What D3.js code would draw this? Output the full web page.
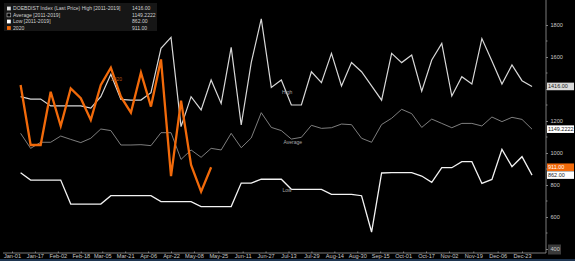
<!DOCTYPE html>
<html lang="en">
<head>
<meta charset="UTF-8">
<title>DOEBDIST Index</title>
<script src="https://d3js.org/d3.v7.min.js"></script>
<style>
    body { margin: 0; background: #000; }
    svg { display: block; }
    text { font-family: "Liberation Sans", Arial, sans-serif; }
    .axis text { fill: #c8c8c8; font-size: 5.6px; }
    .axis path, .axis line { stroke: #9a9a9a; stroke-width: 0.8px; }
</style>
</head>
<body>
<div id="container"></div>
<script>
    // weekly values, week 1 .. week 52
    const high = [1352,1337,1337,1294,1294,1294,1294,1281,1352,1492,1335,1331,1331,1377,1654,1723,
        1165,1352,1269,1456,1310,1660,1175,1565,1838,1410,1456,1300,1300,1508,1440,1623,1419,1565,
        1508,1420,1330,1623,1565,1612,1387,1581,1685,1356,1477,1431,1715,1575,1431,1550,1452,1416];
    const average = [1123,1029,1067,1067,1106,1085,1065,1092,1150,1140,1050,1050,1052,1046,1127,1127,
        960,1019,973,1029,1019,1123,1033,1094,1252,1160,1140,1087,1098,1173,1154,1158,1181,1177,
        1092,1067,1178,1217,1273,1246,1160,1212,1185,1158,1185,1185,1169,1225,1196,1223,1210,1149];
    const low = [877,831,831,831,831,681,681,681,681,733,733,733,733,733,696,696,696,696,665,665,
        665,665,812,812,836,836,836,773,773,773,773,742,742,742,733,506,875,877,877,877,856,817,
        908,908,946,946,810,835,1023,915,977,862];
    const y2020 = [1425,1050,1050,1383,1169,1404,1342,1206,1425,1533,1352,1252,1502,1290,1585,856,
        1327,925,758,911];

    const xTickLabels = ["Jan-01","Jan-17","Feb-02","Feb-18","Mar-05","Mar-21","Apr-06","Apr-22",
        "May-08","May-25","Jun-11","Jun-27","Jul-13","Jul-29","Aug-14","Aug-30","Sep-15","Oct-01",
        "Oct-17","Nov-02","Nov-19","Dec-06","Dec-23"];
    const yTicks = [400,600,800,1000,1200,1400,1600,1800];

    const legendNames = ["DOEBDIST Index (Last Price) High [2011-2019]","Average [2011-2019]",
        "Low [2011-2019]","2020"];
    const legendValues = ["1416.00","1149.2222","862.00","911.00"];

    const width = 575, height = 261;
    const orange = "#f26a0a";

    const svg = d3.select("#container").append("svg")
        .attr("width", width).attr("height", height);
    svg.append("rect").attr("width", width).attr("height", height).attr("fill", "#000");

    const parse = d3.timeParse("%b-%d-%Y");
    const tickDates = xTickLabels.map(s => parse(s + "-2019"));
    const weekDate = i => d3.timeDay.offset(parse("Jan-07-2019"), 7 * i);

    const x = d3.scaleTime()
        .domain([tickDates[0], tickDates[tickDates.length - 1]])
        .range([12, 522]);
    const y = d3.scaleLinear().domain([400, 1800]).range([249, 25]);

    const axisRight = 546, axisBottom = 253;

    // bottom axis
    const gx = svg.append("g").attr("class", "axis")
        .attr("transform", `translate(0,${axisBottom})`)
        .call(d3.axisBottom(x).tickValues(tickDates).tickSize(-1.5).tickPadding(1.5)
            .tickFormat((d, i) => xTickLabels[i]));
    gx.select(".domain").attr("d", `M3,0H${axisRight}`);

    // right axis (1400 label sits under the last-value box)
    const gy = svg.append("g").attr("class", "axis")
        .attr("transform", `translate(${axisRight},0)`)
        .call(d3.axisRight(y).tickValues(yTicks).tickSize(2).tickPadding(2.5)
            .tickFormat(d => d === 1400 ? "" : d3.format("d")(d)));
    gy.select(".domain").attr("d", `M0,0V${axisBottom}`);
    gy.selectAll(".tick text").attr("font-size", "5.8px");
    // minor ticks
    gy.selectAll(".minor").data(d3.range(500, 1900, 200)).enter().append("line")
        .attr("x1", 0).attr("x2", 1.5)
        .attr("y1", d => y(d)).attr("y2", d => y(d))
        .attr("stroke", "#9a9a9a").attr("stroke-width", 0.6);
    // box over the lowest label
    const t400 = gy.selectAll(".tick").filter(d => d === 400);
    t400.insert("rect", "text").attr("x", 2).attr("y", -5).attr("width", 13).attr("height", 10)
        .attr("fill", "#3a3a3a");
    t400.select("text").attr("fill", "#999");

    svg.append("rect").attr("x", 0).attr("y", 259).attr("width", width).attr("height", 2)
        .attr("fill", "#1e3550");

    const line = d3.line().x((d, i) => x(weekDate(i))).y(d => y(d));

    const series = [
        { data: average, color: "#8c8c8c", w: 0.9 },
        { data: low, color: "#f2f2f2", w: 1.3 },
        { data: high, color: "#d8d8d8", w: 1.2 },
        { data: y2020, color: orange, w: 2.3 }
    ];
    svg.selectAll("path.series").data(series).enter().append("path")
        .attr("class", "series")
        .attr("d", d => line(d.data))
        .attr("fill", "none")
        .attr("stroke", d => d.color)
        .attr("stroke-width", d => d.w)
        .attr("stroke-linejoin", "miter");

    // in-chart labels
    const tag = (txt, wk, val, col) => svg.append("text")
        .attr("x", x(weekDate(wk))).attr("y", y(val))
        .attr("text-anchor", "middle").attr("dy", "0.35em")
        .attr("font-size", "5px").attr("fill", col).text(txt);
    tag("High", 26.7, 1382, "#a8a8a8");
    tag("Average", 27.2, 1065, "#a8a8a8");
    tag("Low", 26.7, 766, "#a8a8a8");
    tag("2020", 9.6, 1460, "#b85510");

    // last value boxes
    const lastBoxes = [
        { text: legendValues[0], v: high[high.length - 1], bg: "#d9d9d9", fg: "#222" },
        { text: legendValues[1], v: average[average.length - 1], bg: "#ffffff", fg: "#222" },
        { text: legendValues[3], v: y2020[y2020.length - 1], bg: orange, fg: "#fff" },
        { text: legendValues[2], v: low[low.length - 1], bg: "#ffffff", fg: "#222" }
    ];
    const lb = svg.selectAll("g.last").data(lastBoxes).enter().append("g")
        .attr("transform", d => `translate(${axisRight + 1},${y(d.v)})`);
    lb.append("rect").attr("x", 0).attr("y", -3.8).attr("width", 27).attr("height", 7.6)
        .attr("fill", d => d.bg);
    lb.append("text").attr("x", 1).attr("dy", "0.35em").attr("font-size", "5.5px")
        .attr("fill", d => d.fg).text(d => d.text);

    // legend
    const lg = svg.append("g").attr("transform", "translate(4,3)");
    lg.append("rect").attr("width", 153).attr("height", 28).attr("fill", "#161616");
    const rows = lg.selectAll("g.row").data(legendNames).enter().append("g")
        .attr("transform", (d, i) => `translate(0,${3 + i * 6.5})`);
    const swatch = [
        { fill: "#d9d9d9", stroke: "none" },
        { fill: "#000", stroke: "#e0e0e0" },
        { fill: "#ffffff", stroke: "none" },
        { fill: orange, stroke: "none" }
    ];
    rows.append("rect").attr("x", 3).attr("y", 0.6).attr("width", 3.8).attr("height", 3.8)
        .attr("fill", (d, i) => swatch[i].fill)
        .attr("stroke", (d, i) => swatch[i].stroke).attr("stroke-width", 0.5);
    rows.append("text").attr("x", 9).attr("y", 4.4).attr("font-size", "5.1px")
        .attr("fill", "#cfcfcf").text(d => d);
    rows.append("text").attr("x", 128).attr("y", 4.4).attr("font-size", "5.1px")
        .attr("fill", "#cfcfcf").text((d, i) => legendValues[i]);
</script>
</body>
</html>
